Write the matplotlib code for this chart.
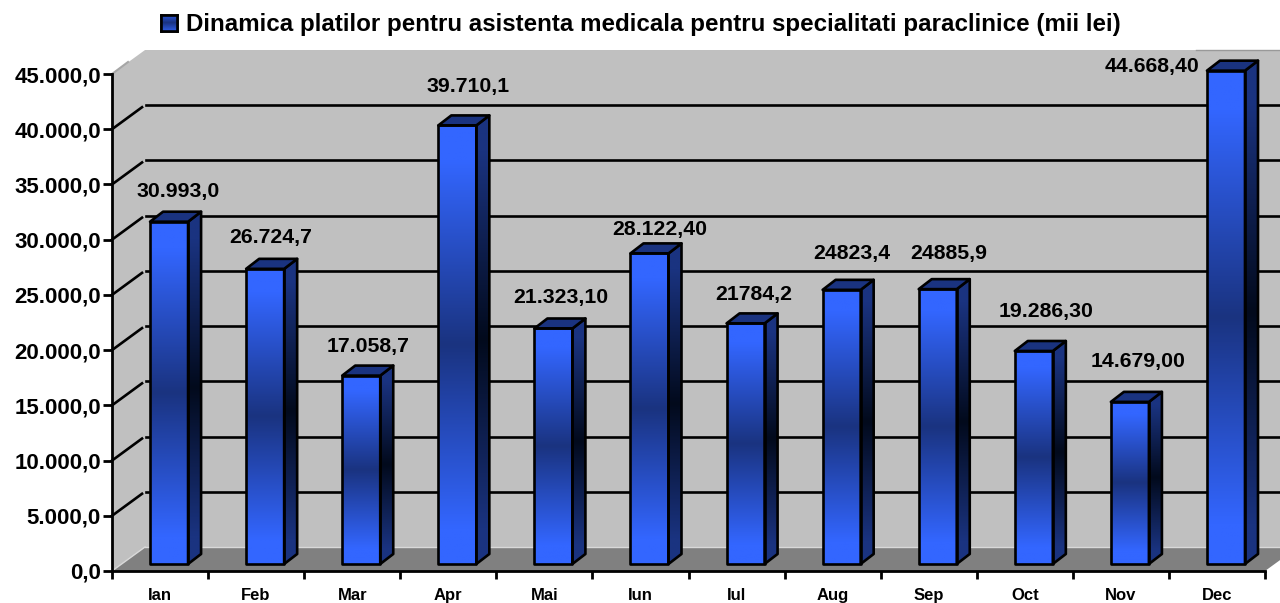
import numpy as np
import matplotlib
matplotlib.use("Agg")
import matplotlib.pyplot as plt
from matplotlib.colors import LinearSegmentedColormap
from matplotlib.patches import Polygon, Patch
from matplotlib.ticker import FixedLocator, FuncFormatter

plt.rcParams['font.family'] = ['Liberation Sans', 'DejaVu Sans']
plt.rcParams['font.weight'] = 'bold'

months = ['Ian', 'Feb', 'Mar', 'Apr', 'Mai', 'Iun', 'Iul', 'Aug', 'Sep', 'Oct', 'Nov', 'Dec']
values = [30993.0, 26724.7, 17058.7, 39710.1, 21323.10, 28122.40, 21784.2, 24823.4, 24885.9,
          19286.30, 14679.00, 44668.40]
value_labels = ['30.993,0', '26.724,7', '17.058,7', '39.710,1', '21.323,10', '28.122,40', '21784,2',
                '24823,4', '24885,9', '19.286,30', '14.679,00', '44.668,40']
title = 'Dinamica platilor pentru asistenta medicala pentru specialitati paraclinice (mii lei)'
# label offsets from the front-top centre of each bar, in pixels
label_dx = [9, 6, 7, 11, 7, 10, 8, 10, 11, 12, 8, -74]
label_dy = [30, 31, 29, 39, 31, 24, 29, 36, 36, 39, 40, 4]

W, H = 1280, 603
L, R, T, B = 112, 1265, 74, 571
YMAX = 45000
PX = 1 / 96                 # category units per pixel
PY = YMAX / (B - T)         # value units per pixel
WALL_DX, WALL_DY = 33 * PX, 24 * PY
EDGE = 1.9

fig = plt.figure(figsize=(W / 100, H / 100), dpi=100, facecolor='white')
ax = fig.add_axes([L / W, 1 - B / H, (R - L) / W, (B - T) / H], facecolor='none')

front = LinearSegmentedColormap.from_list('front', [(0, '#3366FF'), (0.08, '#3366FF'), (0.5, '#1A3380'),
                                                    (0.92, '#3366FF'), (1, '#3366FF')])
side = LinearSegmentedColormap.from_list('side', [(0, '#1A3380'), (0.08, '#1A3380'), (0.5, '#020A1C'),
                                                  (0.92, '#1A3380'), (1, '#1A3380')])
grad = np.linspace(0, 1, 256).reshape(-1, 1)

# walls and floor
wk = dict(clip_on=False, lw=0)
ax.add_patch(Polygon([(0, 0), (WALL_DX, WALL_DY), (WALL_DX, YMAX + WALL_DY), (0, YMAX)], fc='#C0C0C0', zorder=0.1, **wk))
ax.add_patch(Polygon([(WALL_DX, WALL_DY), (12 + WALL_DX, WALL_DY), (12 + WALL_DX, YMAX + WALL_DY), (WALL_DX, YMAX + WALL_DY)],
                     fc='#C0C0C0', zorder=0.1, **wk))
ax.add_patch(Polygon([(0, 0), (12, 0), (12 + WALL_DX, WALL_DY), (WALL_DX, WALL_DY)], fc='#808080', zorder=0.2, **wk))
ax.plot([WALL_DX, 12 + WALL_DX], [WALL_DY, WALL_DY], color='#D9D9D9', lw=1, clip_on=False, zorder=0.3)
ax.plot([0, WALL_DX], [0, WALL_DY], color='#D9D9D9', lw=1, clip_on=False, zorder=0.3)
ax.plot([0, 16 * PX], [YMAX, YMAX + 12 * PY], color='#A6A6A6', lw=1.5, clip_on=False, zorder=0.3)
ax.plot([1083 * PX, 12 + WALL_DX], [YMAX + WALL_DY] * 2, color='#999999', lw=1, clip_on=False, zorder=0.3)

# gridlines: along side wall and back wall
for g in range(5000, YMAX, 5000):
    ax.plot([0, 30 * PX], [g, g + 22 * PY], color='black', lw=1.9, clip_on=False, zorder=0.5)
    ax.plot([WALL_DX + 1 * PX, 12 + WALL_DX], [g + WALL_DY, g + WALL_DY], color='black', lw=1.9, clip_on=False, zorder=0.5)

# bars
bar_w = 38 * PX
dx0, dy0 = 38 * PX, 7 * PY           # front-left-bottom corner within its category
depth_x, depth_y = 13 * PX, 10 * PY
for i, v in enumerate(values):
    x0 = i + dx0
    x1 = x0 + bar_w
    y0 = dy0
    y1 = dy0 + v
    imf = ax.imshow(grad, cmap=front, extent=(x0, x1, y0, y1), origin='upper', aspect='auto', zorder=3, vmin=0, vmax=1)
    imf.set_clip_box(fig.bbox)
    poly = Polygon([(x1, y0), (x1 + depth_x, y0 + depth_y), (x1 + depth_x, y1 + depth_y), (x1, y1)],
                   fc='none', ec='black', lw=EDGE, clip_on=False, zorder=3.2, joinstyle='round')
    ax.add_patch(poly)
    ims = ax.imshow(grad, cmap=side, extent=(x1, x1 + depth_x, y0, y1 + depth_y), origin='upper', aspect='auto', zorder=3, vmin=0, vmax=1)
    ims.set_clip_box(fig.bbox)
    ims.set_clip_path(poly)
    ax.add_patch(Polygon([(x0, y1), (x1, y1), (x1 + depth_x, y1 + depth_y), (x0 + depth_x, y1 + depth_y)],
                         fc='#1A3380', ec='black', lw=EDGE, clip_on=False, zorder=3.2, joinstyle='round'))
    ax.add_patch(Polygon([(x0, y0), (x1, y0), (x1, y1), (x0, y1)], fc='none', ec='black', lw=EDGE,
                         clip_on=False, zorder=3.3, joinstyle='round'))
    ax.annotate(value_labels[i], xy=((x0 + x1) / 2, y1), xytext=(label_dx[i] * 0.72, label_dy[i] * 0.72),
                textcoords='offset points', ha='center', va='center', fontsize=15.3, fontweight='bold',
                color='black', annotation_clip=False, zorder=5)

ax.set_xlim(0, 12)
ax.set_ylim(0, YMAX)

# axes
for s in ('top', 'right'):
    ax.spines[s].set_visible(False)
for s in ('left', 'bottom'):
    ax.spines[s].set_linewidth(2)
ax.yaxis.set_major_locator(FixedLocator(list(range(0, YMAX + 1, 5000))))
ax.yaxis.set_major_formatter(FuncFormatter(lambda v, p: f'{int(v):,}'.replace(',', '.') + ',0'))
ax.tick_params(axis='y', which='major', length=6.5, width=2, pad=1.5, labelsize=16)
ax.xaxis.set_major_locator(FixedLocator(list(range(0, 13))))
ax.xaxis.set_minor_locator(FixedLocator([i + 0.5 for i in range(12)]))
ax.set_xticklabels([])
ax.set_xticklabels(months, minor=True, fontsize=12, fontweight='bold')
ax.tick_params(axis='x', which='major', length=6, width=2)
ax.tick_params(axis='x', which='minor', length=0, pad=12.5)

# legend as chart title
leg = fig.legend(handles=[Patch(facecolor='#2A4CC0', edgecolor='black', linewidth=1.9, label=title)],
                 loc='center', bbox_to_anchor=(641 / W, 1 - 25 / H), frameon=False, fontsize=17.35,
                 handlelength=0.66, handleheight=0.66, handletextpad=0.35, borderpad=0, borderaxespad=0)
fig.canvas.draw()
bb = leg.legend_handles[0].get_window_extent().transformed(fig.transFigure.inverted())
sw = fig.add_axes([bb.x0, bb.y0, bb.width, bb.height], zorder=10)
swatch = LinearSegmentedColormap.from_list('swatch', ['#2E5CE6', '#1A3380', '#2E5CE6'])
sw.imshow(grad, cmap=swatch, aspect='auto', vmin=0, vmax=1)
sw.set_xticks([])
sw.set_yticks([])
for s in sw.spines.values():
    s.set_linewidth(1.9)

fig.savefig('out.png', dpi=100, facecolor='white')
